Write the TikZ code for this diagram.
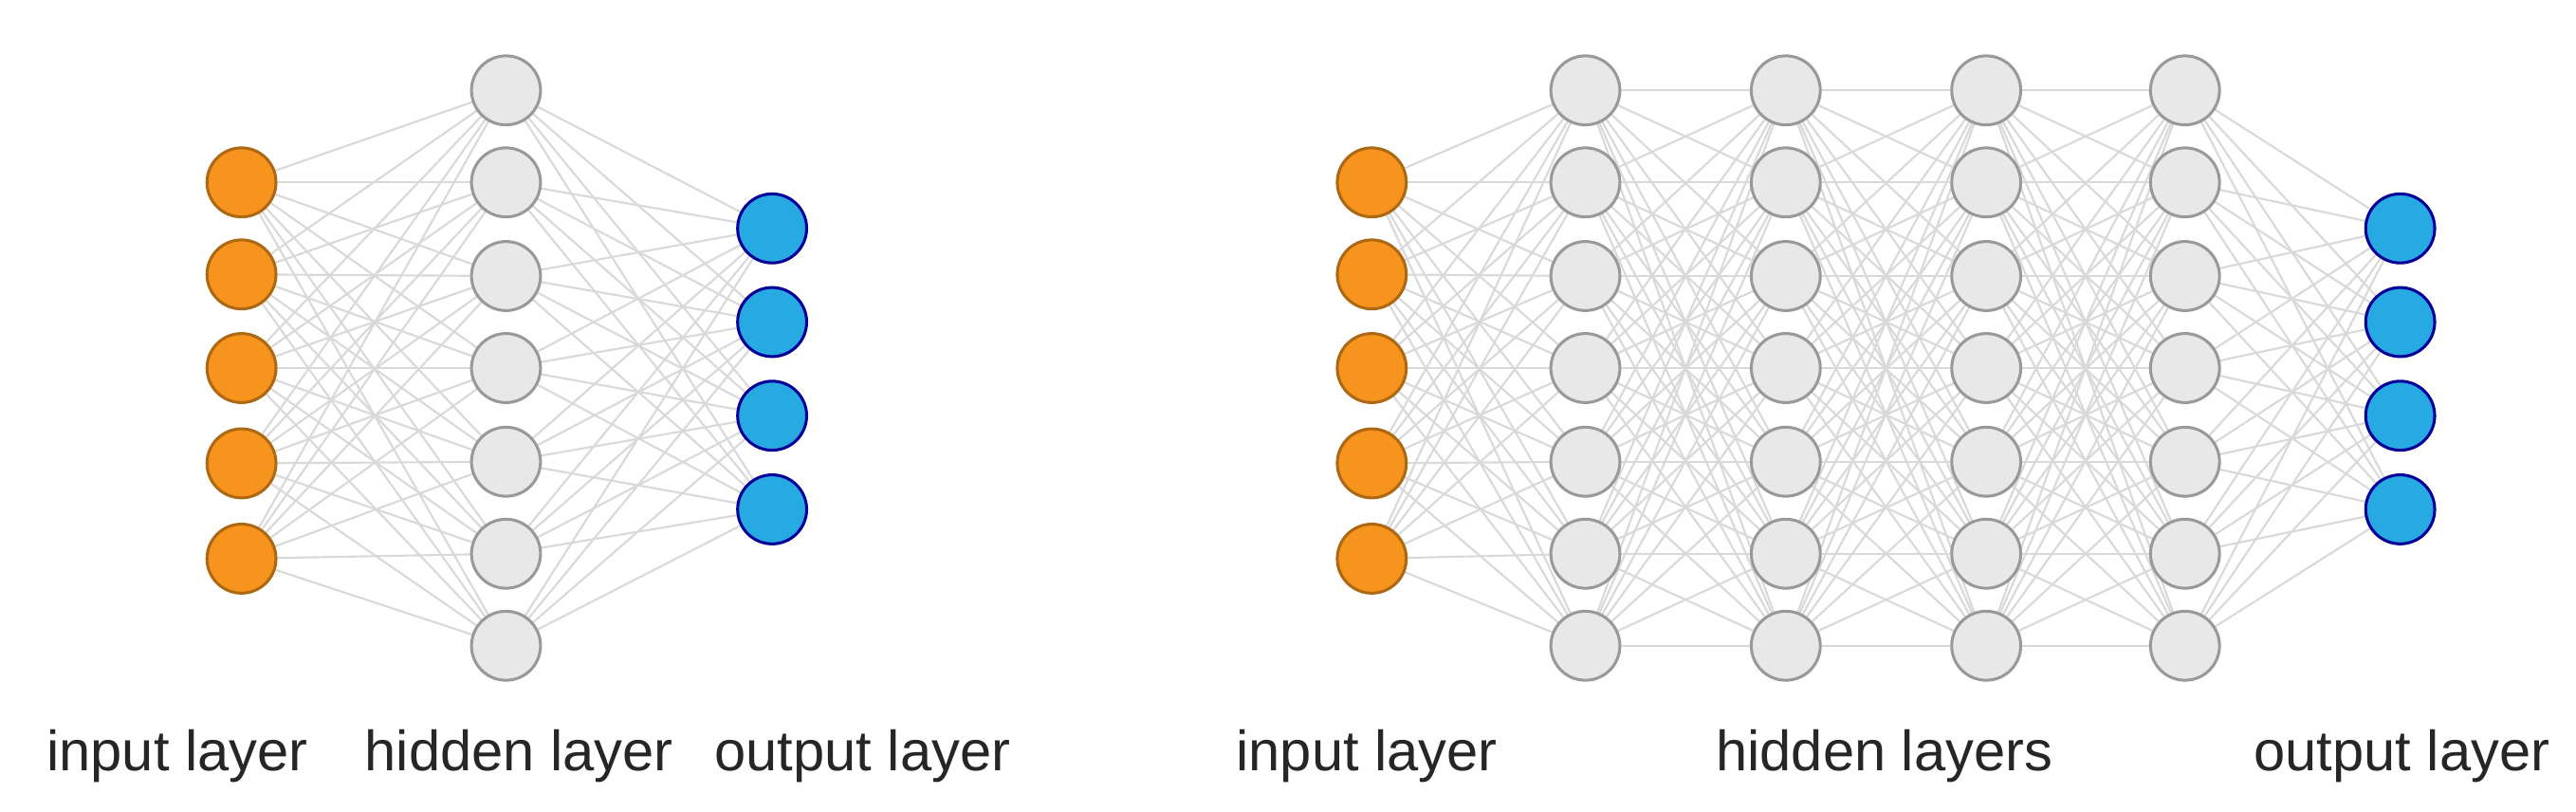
\documentclass[tikz,border=0pt]{standalone}
\usepackage{fontspec}
\setmainfont{Liberation Sans}
\usetikzlibrary{positioning,backgrounds}
\definecolor{inorange}{HTML}{F7941D}
\definecolor{outblue}{HTML}{27AAE1}
\begin{document}
\begin{tikzpicture}[x=0.01cm, y=-0.01cm,
    neuron/.style={circle, draw, line width=0.5pt, minimum size=0.42cm, inner sep=0pt},
    input/.style={neuron, fill=inorange, draw=inorange!70!black},
    hidden/.style={neuron, fill=gray!18, draw=gray!80},
    output/.style={neuron, fill=outblue, draw=blue!60!black},
    link/.style={draw=gray!30, line width=0.35pt},
    caption/.style={font=\fontsize{9.8}{11}\selectfont, text=black!85},
    ]
    \useasboundingbox (0,0) rectangle (1568,494);

    % left network
    \foreach \i/\y in {1/111,2/167,3/224,4/282,5/340}
      \node[input] (li\i) at (147,\y) {};
    \foreach \i/\y in {1/55,2/111,3/168,4/224,5/281,6/337,7/393}
      \node[hidden] (lh\i) at (308,\y) {};
    \foreach \i/\y in {1/139,2/196,3/253,4/310}
      \node[output] (lo\i) at (470,\y) {};

    % right network
    \foreach \i/\y in {1/111,2/167,3/224,4/282,5/340}
      \node[input] (ri\i) at (835,\y) {};
    \foreach \l/\x in {1/965,2/1087,3/1209,4/1330}
      \foreach \i/\y in {1/55,2/111,3/168,4/224,5/281,6/337,7/393}
        \node[hidden] (rh\l-\i) at (\x,\y) {};
    \foreach \i/\y in {1/139,2/196,3/253,4/310}
      \node[output] (ro\i) at (1461,\y) {};

    \begin{scope}[on background layer]
      \foreach \a in {1,...,5}
        \foreach \b in {1,...,7} {
          \draw[link] (li\a) -- (lh\b);
          \draw[link] (ri\a) -- (rh1-\b);
        }
      \foreach \a in {1,...,7}
        \foreach \b in {1,...,4} {
          \draw[link] (lh\a) -- (lo\b);
          \draw[link] (rh4-\a) -- (ro\b);
        }
      \foreach \l/\m in {1/2,2/3,3/4}
        \foreach \a in {1,...,7}
          \foreach \b in {1,...,7}
            \draw[link] (rh\l-\a) -- (rh\m-\b);
    \end{scope}

    % captions
    \node[caption] (lin) at (108,460) {input layer};
    \node[caption] (lhid) at (316,460) {hidden layer};
    \node[caption] (lout) at (525,460) {output layer};
    \node[caption] (rin) at (832,460) {input layer};
    \node[caption] (rhid) at (1147,460) {hidden layers};
    \node[caption] (rout) at (1462,460) {output layer};
\end{tikzpicture}
\end{document}
